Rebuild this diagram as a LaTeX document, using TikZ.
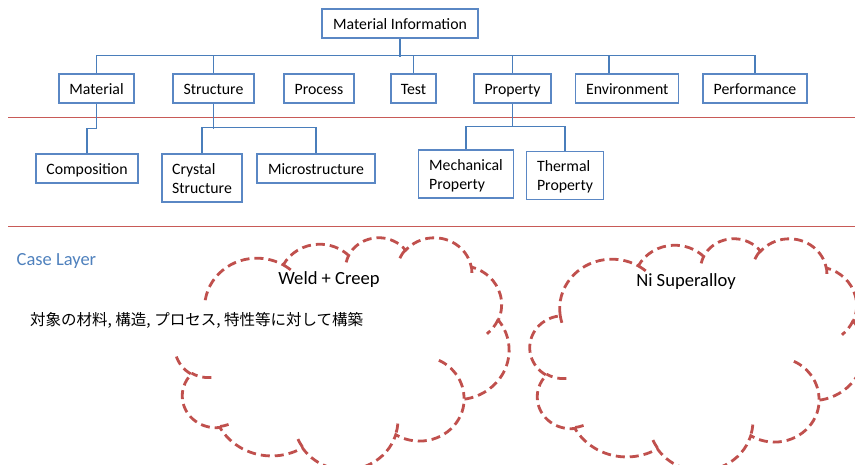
\documentclass[tikz,border=0pt]{standalone}
\usepackage{fontspec}
\setmainfont{Carlito}
\newfontfamily\jpfont{Noto Sans CJK JP}
\definecolor{boxblue}{HTML}{5A87C4}
\definecolor{connblue}{HTML}{4A7EBB}
\definecolor{sepred}{HTML}{C85A57}
\definecolor{cloudred}{HTML}{C0504D}
\definecolor{caseblue}{HTML}{4F81BD}
\newcommand\carc[4]{arc[x radius=#1, y radius=#2, start angle={atan2(#1*sin(#3),#2*cos(#3))}, delta angle={mod(atan2(#1*sin(#3+#4),#2*cos(#3+#4))-atan2(#1*sin(#3),#2*cos(#3))+720,360)}]}
\newcommand\cloudpath{%
 (39.00,143.70) \carc{67.53}{91.90}{-190.4875}{123.7805}
 \carc{53.33}{72.67}{-144.1024}{89.9452}
 \carc{43.65}{59.45}{-145.8079}{99.7230}
 \carc{48.57}{65.95}{-130.9861}{117.2417}
 \carc{53.33}{72.73}{-78.7089}{109.0269}
 \carc{67.75}{92.20}{-46.2673}{130.2690}
 \carc{57.85}{78.67}{0.6250}{114.0333}
 \carc{67.52}{92.15}{22.4516}{115.1726}
 \carc{77.20}{105.43}{66.2426}{75.7110}
 \carc{43.60}{59.18}{-274.9421}{146.7356}
 \carc{43.45}{59.45}{-246.8285}{152.5189} -- cycle
 (46.93,261.77) \carc{43.45}{59.45}{86.7420}{26.4295}
 (69.28,348.99) \carc{43.60}{59.18}{73.6105}{11.4475}
 (164.78,390.90) \carc{67.52}{92.15}{137.6242}{14.0811}
 (288.27,347.51) \carc{67.52}{92.15}{6.4533}{15.9984}
 (341.29,229.54) \carc{57.85}{78.67}{-70.2924}{70.9174}
 (417.98,153.54) \carc{53.33}{72.73}{30.3180}{27.7515}
 (383.24,54.26) \carc{48.57}{65.95}{-13.7443}{14.8589}
 (290.78,39.52) \carc{48.57}{65.95}{-149.1815}{18.1954}
 (221.41,47.20) \carc{43.65}{59.45}{-163.4943}{17.6864}
 (140.00,51.92) \carc{67.53}{91.90}{-66.7070}{12.3194}
 (41.27,157.89) \carc{67.53}{91.90}{157.6544}{11.8582}}
\newcommand\drawcloud[4]{%
 \pgfmathsetmacro\cxs{#3/432}\pgfmathsetmacro\cys{#4/432}%
 \begin{scope}[shift={(#1,#2)}, x=\cxs pt, y=-\cys pt]
 \draw[cloudline] \cloudpath;
 \end{scope}}
\begin{document}
\begin{tikzpicture}[x=1pt,y=-1pt,
 box/.style={draw=boxblue, line width=1.1pt, fill=white, inner sep=0pt, minimum height=29pt,
   font=\fontsize{15.8}{19}\selectfont, align=left, text height=12pt, text depth=0pt},
 twoline/.style={minimum height=48pt, text height=31pt, text depth=0pt},
 conn/.style={draw=connblue, line width=1.2pt},
 sepline/.style={draw=sepred, line width=0.9pt},
 cloudline/.style={draw=cloudred, line width=2.8pt, dash pattern=on 9pt off 5pt},
 cloudtext/.style={inner sep=0pt, anchor=base, font=\fontsize{18.6}{22}\selectfont}]
\useasboundingbox (0,0) rectangle (855,465);

% separator lines
\draw[sepline] (8,117.3) -- (855,117.3);
\draw[sepline] (8,226.7) -- (855,226.7);

% nodes
\node[box, minimum width=156pt] (info) at (400,23.5) {Material Information};
\node[box, minimum width=75pt]  (mat)  at (96.5,88.5) {Material};
\node[box, minimum width=81pt]  (str)  at (213.5,88.5) {Structure};
\node[box, minimum width=70pt]  (proc) at (319,88.5) {Process};
\node[box, minimum width=45pt]  (test) at (413.5,88.5) {Test};
\node[box, minimum width=77pt]  (prop) at (512.5,88.5) {Property};
\node[box, minimum width=103pt] (env)  at (627.3,88.5) {Environment};
\node[box, minimum width=104pt] (perf) at (755,88.5) {Performance};
\node[box, minimum width=102pt] (comp) at (87,168.5) {Composition};
\node[box, twoline, minimum width=80pt] (crys) at (202,178) {Crystal\\Structure};
\node[box, minimum width=118pt] (micro) at (316,168.5) {Microstructure};
\node[box, twoline, minimum width=95pt] (mech) at (466,174) {Mechanical\\Property};
\node[box, twoline, minimum width=77pt] (therm) at (565,175.3) {Thermal\\Property};

% connectors
\draw[conn, line width=2.6pt] (info.south) -- ++(0,18);
\draw[conn] (mat.north) -- ++(0,-18) -| (perf.north);
\draw[conn] (str.north) -- ++(0,-18);
\draw[conn] (test.north) -- ++(0,-18);
\draw[conn] (prop.north) -- ++(0,-18);
\draw[conn] ([xshift=-18.3pt]env.north) -- ++(0,-18);
\draw[conn] (mat.south) -- ++(0,25) -| (comp.north);
\draw[conn] (str.south) -- ++(0,25);
\draw[conn] (crys.north) -- ++(0,-26) -| (micro.north);
\draw[conn] (prop.south) -- ++(0,23.7);
\draw[conn] (mech.north) -- ++(0,-23.3) -| (therm.north);

% clouds
\begin{scope}
\clip (0,0) rectangle (855,465);
\drawcloud{175}{237}{334}{232}
\drawcloud{530}{238}{334}{232}
\end{scope}

\node[cloudtext] (weld) at (329,285) {Weld + Creep};
\node[cloudtext] (ni) at (686,287) {Ni Superalloy};

\node[inner sep=0pt, anchor=base west, text=caseblue, font=\fontsize{18.5}{22}\selectfont] (case) at (16.5,266) {Case Layer};
\node[inner sep=0pt, anchor=base west, fill=white, text height=21pt, text depth=29pt,
  font=\jpfont\fontsize{15.5}{19}\selectfont] (jp) at (30,326) {対象の材料, 構造, プロセス, 特性等に対して構築};
\end{tikzpicture}
\end{document}
